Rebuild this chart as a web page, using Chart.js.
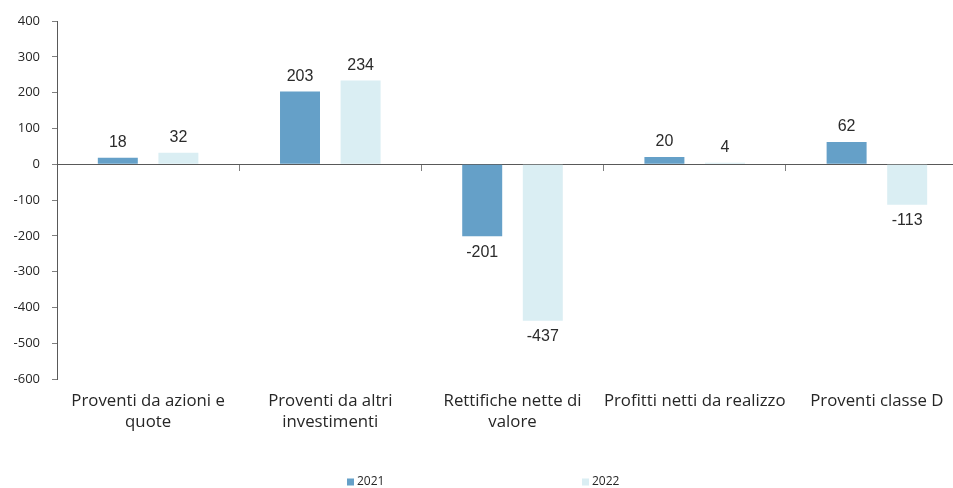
<!DOCTYPE html>
<html>
<head>
<meta charset="utf-8">
<script src="https://cdn.jsdelivr.net/npm/chart.js@4.4.1/dist/chart.umd.min.js"></script>
<style>
  html, body { margin: 0; padding: 0; background: #fff; overflow: hidden; }
  #wrap { width: 970px; height: 488px; }
</style>
</head>
<body>
<div id="wrap"><canvas id="c" width="970" height="488"></canvas></div>
<script>
// Categories (multi-line labels) and values per year
const categories = [
  ['Proventi da azioni e', 'quote'],
  ['Proventi da altri', 'investimenti'],
  ['Rettifiche nette di', 'valore'],
  ['Profitti netti da realizzo'],
  ['Proventi classe D']
];
const seriesNames = ['2021', '2022'];
const values2021 = [18, 203, -201, 20, 62];
const values2022 = [32, 234, -437, 4, -113];
const yTicks = { min: -600, max: 400, step: 100 };

const FONT = '"Open Sans", Lato, sans-serif';
const VALUE_FONT = '"Liberation Sans", Arial, sans-serif';
const TEXT = '#262626';
const AXIS = '#7f7f7f';

// Writes the value above positive bars and below negative ones
const valueLabels = {
  id: 'valueLabels',
  afterDatasetsDraw(chart) {
    const ctx = chart.ctx;
    ctx.save();
    ctx.font = '16px ' + VALUE_FONT;
    ctx.fillStyle = '#2b2b2b';
    ctx.textAlign = 'center';
    ctx.textBaseline = 'middle';
    chart.data.datasets.forEach((ds, i) => {
      chart.getDatasetMeta(i).data.forEach((el, j) => {
        const v = ds.data[j];
        const y = v >= 0 ? el.y - 15 : el.y + 16;
        ctx.fillText(String(v), el.x, y);
      });
    });
    ctx.restore();
  }
};

// Legend row at the bottom with widely spaced entries
const spacedLegend = {
  id: 'spacedLegend',
  afterDraw(chart, args, opts) {
    const ctx = chart.ctx;
    ctx.save();
    ctx.font = opts.fontSize + 'px ' + FONT;
    ctx.textBaseline = 'middle';
    ctx.textAlign = 'left';
    chart.data.datasets.forEach((ds, i) => {
      const x = opts.startX + i * opts.spacing;
      ctx.fillStyle = ds.backgroundColor;
      ctx.fillRect(x, opts.y - opts.box / 2, opts.box, opts.box);
      ctx.fillStyle = TEXT;
      ctx.fillText(ds.label, x + opts.box + 3, opts.y);
    });
    ctx.restore();
  }
};

new Chart(document.getElementById('c'), {
  type: 'bar',
  data: {
    labels: categories,
    datasets: [
      { label: seriesNames[0], data: values2021, backgroundColor: '#65a0c8' },
      { label: seriesNames[1], data: values2022, backgroundColor: '#daeef3' }
    ]
  },
  options: {
    responsive: false,
    animation: false,
    layout: { padding: { top: 21, right: 2, left: 0, bottom: 0 } },
    categoryPercentage: 0.665,
    barPercentage: 0.66,
    plugins: {
      legend: { display: false },
      tooltip: { enabled: false },
      spacedLegend: { startX: 347, spacing: 235, y: 482, box: 7, fontSize: 12 }
    },
    scales: {
      x: {
        position: 'bottom',
        grid: { display: false },
        border: { display: false },
        ticks: {
          color: TEXT,
          font: { family: FONT, size: 16.8, lineHeight: 1.28 },
          padding: 3,
          maxRotation: 0,
          autoSkip: false
        },
        afterFit(scale) { scale.height = 109; }
      },
      xZero: {
        type: 'category',
        labels: categories,
        position: { y: 0 },
        offset: true,
        grid: { offset: true, drawOnChartArea: false, tickLength: 6, color: AXIS },
        border: { display: true, color: '#595959', width: 1 },
        ticks: { display: false }
      },
      y: {
        min: yTicks.min,
        max: yTicks.max,
        ticks: {
          stepSize: yTicks.step,
          color: TEXT,
          font: { family: FONT, size: 13 },
          padding: 12
        },
        grid: { drawOnChartArea: false, tickLength: 5, color: AXIS },
        border: { display: true, color: '#595959', width: 1 },
        afterFit(scale) { scale.width = 57; }
      }
    }
  },
  plugins: [valueLabels, spacedLegend]
});
</script>
</body>
</html>
